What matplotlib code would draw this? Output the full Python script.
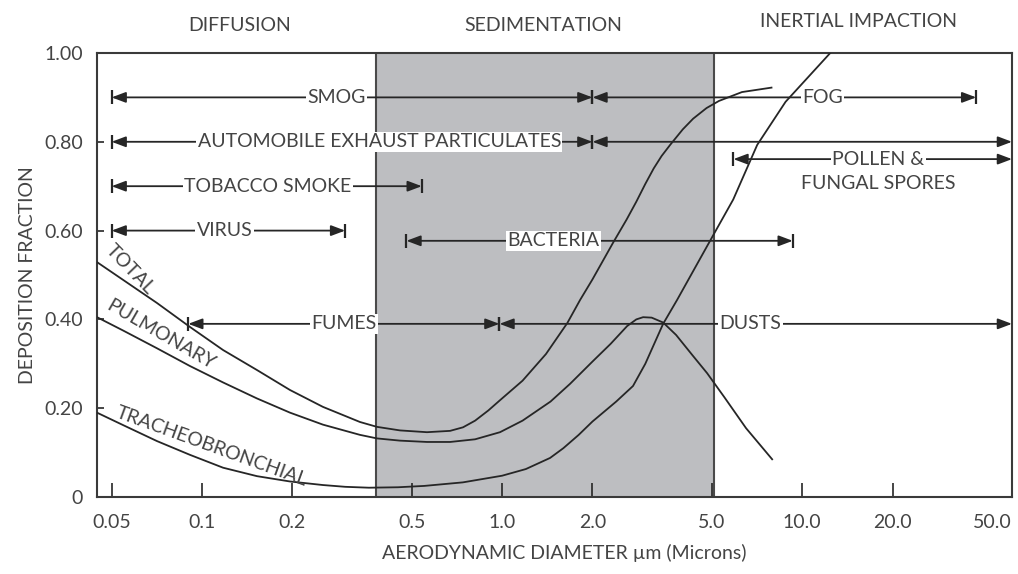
import numpy as np
import matplotlib
matplotlib.use('Agg')
import matplotlib.pyplot as plt
from matplotlib.ticker import NullLocator

plt.rcParams['font.family'] = ['Lato', 'DejaVu Sans']

# deposition curves (diameter in microns, fraction deposited)
total_d = [0.0447, 0.0546, 0.0708, 0.0912, 0.1176, 0.1525, 0.1965, 0.253, 0.336, 0.383, 0.457,
           0.562, 0.671, 0.741, 0.813, 0.9, 0.984, 1.17, 1.4, 1.65, 1.82, 2.0, 2.34, 2.6, 2.8, 3.0,
           3.2, 3.4, 3.63, 4.0, 4.33, 4.8, 5.28, 6.3, 7.9]
total_f = [0.529, 0.489, 0.437, 0.383, 0.331, 0.286, 0.241, 0.203, 0.169, 0.158, 0.150,
           0.146, 0.149, 0.157, 0.172, 0.195, 0.218, 0.262, 0.322, 0.392, 0.444, 0.49, 0.572, 0.625,
           0.665, 0.705, 0.74, 0.768, 0.793, 0.828, 0.852, 0.876, 0.892, 0.912, 0.922]

pulm_d = [0.0447, 0.0546, 0.0708, 0.0912, 0.1176, 0.1525, 0.1965, 0.253, 0.336, 0.383, 0.457,
          0.562, 0.671, 0.813, 0.984, 1.17, 1.45, 1.685, 2.0, 2.3, 2.61, 2.8, 2.95, 3.15, 3.44,
          3.8, 4.3, 4.82, 5.5, 6.5, 7.94]
pulm_f = [0.405, 0.375, 0.335, 0.295, 0.258, 0.222, 0.19, 0.163, 0.14, 0.132, 0.127,
          0.124, 0.124, 0.13, 0.146, 0.172, 0.215, 0.255, 0.305, 0.345, 0.385, 0.4, 0.405, 0.404, 0.393,
          0.365, 0.32, 0.279, 0.225, 0.155, 0.085]

tb_d = [0.0447, 0.0546, 0.0708, 0.0912, 0.1176, 0.1525, 0.1965, 0.253, 0.3, 0.36, 0.45, 0.55,
        0.74, 1.0, 1.2, 1.445, 1.6, 1.8, 2.0, 2.4, 2.73, 3.0, 3.44, 3.83, 4.82, 5.89, 7.08, 8.8, 12.4]
tb_f = [0.19, 0.162, 0.126, 0.095, 0.066, 0.047, 0.035, 0.027, 0.023, 0.021, 0.022, 0.025,
        0.033, 0.048, 0.063, 0.088, 0.11, 0.14, 0.17, 0.215, 0.25, 0.3, 0.39, 0.444, 0.565, 0.67,
        0.793, 0.89, 1.0]

# particle size ranges
range_names = ['SMOG', 'FOG', 'AUTOMOBILE EXHAUST PARTICULATES', '', 'POLLEN &',
               'TOBACCO SMOKE', 'VIRUS', 'BACTERIA', 'FUMES', 'DUSTS']
range_start = [0.05, 2.0, 0.05, 2.0, 5.9, 0.05, 0.05, 0.48, 0.09, 0.98]
range_end = [2.0, 38.0, 2.0, 50.0, 50.0, 0.54, 0.30, 9.3, 0.98, 50.0]
range_y = [0.90, 0.90, 0.80, 0.80, 0.761, 0.70, 0.60, 0.577, 0.39, 0.39]
range_label_x = [0.28, 11.7, 0.39, None, 17.9, 0.166, 0.119, 1.48, 0.297, 6.71]

xtick_vals = [0.05, 0.1, 0.2, 0.5, 1.0, 2.0, 5.0, 10.0, 20.0, 50.0]
xtick_labels = ['0.05', '0.1', '0.2', '0.5', '1.0', '2.0', '5.0', '10.0', '20.0', '50.0']
ytick_vals = [0, 0.2, 0.4, 0.6, 0.8, 1.0]
ytick_labels = ['0', '0.20', '0.40', '0.60', '0.80', '1.00']

ink = '#262626'
txt = '#444444'
fs = 14

fig = plt.figure(figsize=(10.18, 5.74), dpi=100)
ax = fig.add_axes([0.0953, 0.1341, 0.8988, 0.7736])
ax.set_xscale('log')
ax.set_xlim(0.0447, 50)
ax.set_ylim(0, 1)

# sedimentation zone
ax.axvspan(0.38, 5.1, fc='#bdbec1', ec='none', zorder=0)
for xv in (0.38, 5.1):
    ax.axvline(xv, color='#4a4a4a', lw=1.5, zorder=1)

ax.plot(total_d, total_f, color=ink, lw=1.3, zorder=3)
ax.plot(pulm_d, pulm_f, color=ink, lw=1.3, zorder=3)
ax.plot(tb_d, tb_f, color=ink, lw=1.3, zorder=3)

ax.text(0.0578, 0.512, 'TOTAL', rotation=-46, ha='center', va='center', fontsize=fs, color=txt)
ax.text(0.0729, 0.365, 'PULMONARY', rotation=-30, ha='center', va='center', fontsize=fs, color=txt)
ax.text(0.108, 0.115, 'TRACHEOBRONCHIAL', rotation=-20, ha='center', va='center', fontsize=fs,
        color=txt)

for name, x0, x1, y, lx in zip(range_names, range_start, range_end, range_y, range_label_x):
    ax.annotate('', xy=(x1, y), xytext=(x0, y),
                arrowprops=dict(arrowstyle='<|-|>,head_length=0.85,head_width=0.32',
                                color=ink, lw=1.3, shrinkA=0, shrinkB=0), zorder=4)
    for xb in (x0, x1):
        if xb < 50:
            ax.plot([xb], [y], marker='|', ms=10, mew=1.6, color=ink, zorder=5)
    if name:
        ax.text(lx, y, name, ha='center', va='center', fontsize=fs, color=txt, zorder=6,
                bbox=dict(fc='white', ec='none', pad=1))
ax.text(17.9, 0.707, 'FUNGAL SPORES', ha='center', va='center', fontsize=fs, color=txt)

# zone titles
ax.text(0.133, 1.061, 'DIFFUSION', transform=ax.get_xaxis_transform(), ha='center', va='center',
        fontsize=fs, color=txt)
ax.text(1.37, 1.061, 'SEDIMENTATION', transform=ax.get_xaxis_transform(), ha='center', va='center',
        fontsize=fs, color=txt)
ax.text(15.4, 1.072, 'INERTIAL IMPACTION', transform=ax.get_xaxis_transform(), ha='center',
        va='center', fontsize=fs, color=txt)

ax.set_xticks(xtick_vals)
ax.set_xticklabels(xtick_labels)
ax.xaxis.set_minor_locator(NullLocator())
ax.get_xticklabels()[-1].set_ha('right')
ax.set_yticks(ytick_vals)
ax.set_yticklabels(ytick_labels)
ax.tick_params(axis='x', direction='in', length=10, width=1.2, pad=12, labelsize=fs,
               labelcolor=txt, color=ink)
ax.tick_params(axis='y', direction='in', length=5, width=1.2, pad=10, labelsize=fs,
               labelcolor=txt, color=ink)
for sp in ax.spines.values():
    sp.set_color('#3a3a3a')
    sp.set_linewidth(1.5)

ax.set_xlabel('AERODYNAMIC DIAMETER \u00b5m (Microns)', fontsize=fs, color=txt)
ax.xaxis.set_label_coords(0.511, -0.126)
ax.xaxis.label.set_va('center')
ax.set_ylabel('DEPOSITION FRACTION', fontsize=fs, color=txt)
ax.yaxis.set_label_coords(-0.0765, 0.5)
ax.yaxis.label.set_va('center')

fig.savefig('out.png', dpi=100)
